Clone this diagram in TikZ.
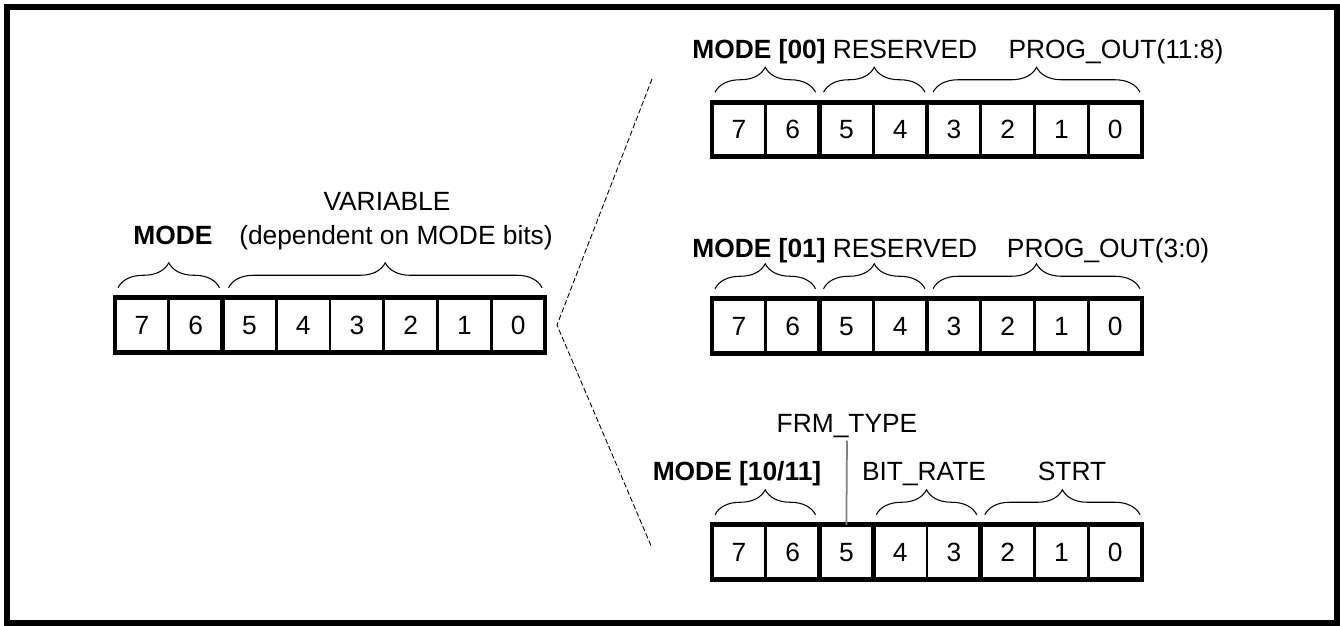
\documentclass[tikz,border=0pt]{standalone}
\usepackage{fontspec}
\setmainfont{Liberation Sans}
\usepackage{tikz}
\usetikzlibrary{positioning}
\usetikzlibrary{calc}
\usetikzlibrary{decorations.pathreplacing}

\begin{document}
\begin{tikzpicture}
    [%%%%%%%%%%%%%%%%%%%%%%%%%%%%%%
        x=0.02cm, y=-0.02cm,
        font=\fontsize{15}{18}\selectfont,
        bitcell/.style={rectangle,draw=black,line width=1.6pt,minimum width=1.075cm,minimum height=1.09cm,inner sep=0pt,outer sep=0pt,text height=10.7pt,text depth=0pt},
        regline/.style={line width=2.8pt},
        grpbrace/.style={decorate,decoration={brace,amplitude=0.5cm},line width=0.6pt},
        lbl/.style={inner sep=0pt,anchor=base},
        lblbold/.style={lbl,font=\fontsize{15}{18}\selectfont\bfseries},
        fanline/.style={dash pattern=on 3pt off 1.5pt,line width=0.5pt},
        frmline/.style={gray,line width=1pt}
    ]%%%%%%%%%%%%%%%%%%%%%%%%%%%%%%

\useasboundingbox (0,0) rectangle (1340,626);
\draw[line width=3.4pt] (7,7) rectangle (1337,623);

% the four registers
\foreach \i in {0,1,...,7}{
    \pgfmathsetmacro{\bitno}{int(7-\i)}
    \node[bitcell] (L\bitno) at (141.9+\i*53.75,325) {\bitno};
    \node[bitcell] (A\bitno) at (738.9+\i*53.75,129.5) {\bitno};
    \node[bitcell] (B\bitno) at (738.9+\i*53.75,326) {\bitno};
    \node[bitcell] (C\bitno) at (738.9+\i*53.75,552) {\bitno};
}
\foreach \r in {L,A,B,C}
    \draw[regline] (\r7.north west) rectangle (\r0.south east);

% field boundaries
\draw[regline] (L6.north east) -- (L6.south east);
\foreach \r in {A,B}{
    \draw[regline] (\r6.north east) -- (\r6.south east);
    \draw[regline] (\r4.north east) -- (\r4.south east);
}
\foreach \c in {6,5,3}
    \draw[regline] (C\c.north east) -- (C\c.south east);

% braces
\draw[grpbrace] ($(L7.north west)+(3,-10)$) -- ($(L6.north east)+(-3,-10)$);
\draw[grpbrace] ($(L5.north west)+(6,-10)$) -- ($(L0.north east)+(-3,-10)$);
\foreach \r in {A,B}{
    \draw[grpbrace] ($(\r7.north west)+(3,-10)$) -- ($(\r6.north east)+(-4,-10)$);
    \draw[grpbrace] ($(\r5.north west)+(4,-10)$) -- ($(\r4.north east)+(-2,-10)$);
    \draw[grpbrace] ($(\r3.north west)+(6,-10)$) -- ($(\r0.north east)+(-2,-10)$);
}
\draw[grpbrace] ($(C7.north west)+(3,-10)$) -- ($(C6.north east)+(-4,-10)$);
\draw[grpbrace] ($(C4.north west)+(3,-10)$) -- ($(C3.north east)+(-4,-10)$);
\draw[grpbrace] ($(C2.north west)+(4,-10)$) -- ($(C0.north east)+(-2,-10)$);

% labels
\node[lblbold] (lblmodeL) at (173,244) {MODE};
\node[lbl] (lblvar) at (387,210) {VARIABLE};
\node[lbl] (lbldep) at (396,244) {(dependent on MODE bits)};

\node[lblbold] (lblmodeA) at (759,58) {MODE [00]};
\node[lbl] (lblresA) at (905,58) {RESERVED};
\node[lbl] (lblprogA) at (1116,58) {PROG\_OUT(11:8)};

\node[lblbold] (lblmodeB) at (759,257) {MODE [01]};
\node[lbl] (lblresB) at (905,257) {RESERVED};
\node[lbl] (lblprogB) at (1108,257) {PROG\_OUT(3:0)};

\node[lbl] (lblfrm) at (847,432) {FRM\_TYPE};
\node[lblbold] (lblmodeC) at (737,480) {MODE [10/11]};
\node[lbl] (lblrate) at (924,480) {BIT\_RATE};
\node[lbl] (lblstrt) at (1072,480) {STRT};
\draw[frmline] ($(lblfrm.south)+(0,3)$) -- (C5.north);

% fan-out lines
\coordinate (fanO) at (557,325);
\coordinate (fanT) at (652,79);
\coordinate (fanB) at (652,548);
\draw[fanline] (fanT) -- (fanO) -- (fanB);

\end{tikzpicture}
\end{document}
